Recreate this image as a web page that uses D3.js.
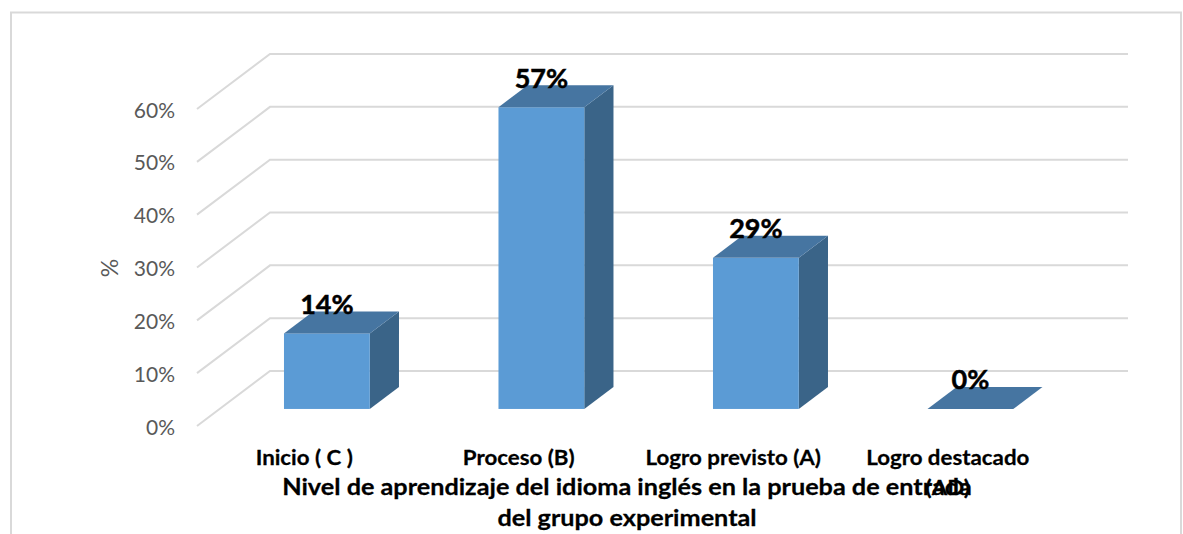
<!DOCTYPE html>
<html>
<head>
<meta charset="utf-8">
<script src="https://cdn.jsdelivr.net/npm/d3@7/dist/d3.min.js"></script>
<style>
html,body{margin:0;padding:0;background:#fff;overflow:hidden}
svg{display:block}
text{font-family:Lato,"Open Sans",sans-serif}
</style>
</head>
<body>
<svg id="chart" width="1183" height="534"></svg>
<script>
const categories = ["Inicio ( C )", "Proceso (B)", "Logro previsto (A)", "Logro destacado (AD)"];
const values = [0.143, 0.571, 0.286, 0];
const yTicks = [0, 0.1, 0.2, 0.3, 0.4, 0.5, 0.6];
const titleLines = ["Nivel de aprendizaje del idioma inglés en la prueba de entrada", "del grupo experimental"];
const yLabel = "%";

const svg = d3.select("#chart");
const grid = "#d9d9d9";

const y = d3.scaleLinear().domain([0, 0.6]).range([426, 109]);
const x = d3.scaleBand().domain(categories).range([197, 1055]).paddingInner(0.6).paddingOuter(0.3);
const floor = d3.scaleBand().domain(categories).range([197, 1055]);
// oblique projection of the chart depth
const depth = d3.scaleLinear().domain([0, 1]);
const dx = depth.copy().range([0, 73]);
const dy = depth.copy().range([0, -55]);
const barD0 = 0.31, barD1 = 0.71;
const line = d3.line();

svg.append("path")
  .attr("d", "M11 534V12.5H1181V534")
  .attr("fill", "none").attr("stroke", grid).attr("stroke-width", 2);

// walls
svg.append("g").selectAll("path").data(yTicks).join("path")
  .attr("fill", "none").attr("stroke", grid).attr("stroke-width", 2)
  .attr("d", t => line([[197, y(t)], [197 + dx(1), y(t) + dy(1)], [1055 + dx(1), y(t) + dy(1)]]));

// y axis
const axis = d3.axisLeft(y).tickValues(yTicks).tickFormat(d3.format(".0%")).tickSize(0).tickPadding(0);
const gAxis = svg.append("g").attr("transform", "translate(175,0)").call(axis);
gAxis.select(".domain").remove();
gAxis.selectAll("text")
  .attr("font-size", 21).attr("fill", "#595959").attr("dy", null)
  .attr("font-family", "Lato").attr("y", 8);

svg.append("text").attr("transform", "translate(118,268) rotate(-90)")
  .attr("text-anchor", "middle").attr("font-size", 23).attr("fill", "#595959").text(yLabel);

// bars
const bars = svg.append("g").selectAll("g").data(categories.map((c, i) => ({c, v: values[i]}))).join("g");
const frontX0 = d => floor(d.c) + (floor.bandwidth() - x.bandwidth()) / 2 + dx(barD0);
const frontX1 = d => frontX0(d) + x.bandwidth();
const base = y(0) + dy(barD0);
const top_ = d => y(d.v) + dy(barD0);
const bdx = dx(barD1 - barD0), bdy = dy(barD1 - barD0);

bars.append("path").attr("fill", "#3a6488")
  .attr("d", d => line([[frontX1(d), top_(d)], [frontX1(d) + bdx, top_(d) + bdy], [frontX1(d) + bdx, base + bdy], [frontX1(d), base]]) + "Z");
bars.append("rect").attr("fill", "#5b9bd5")
  .attr("x", frontX0).attr("y", top_).attr("width", x.bandwidth()).attr("height", d => base - top_(d));
bars.append("path").attr("fill", "#4675a1")
  .attr("d", d => line([[frontX0(d), top_(d)], [frontX0(d) + bdx, top_(d) + bdy], [frontX1(d) + bdx, top_(d) + bdy], [frontX1(d), top_(d)]]) + "Z");
bars.append("text")
  .attr("x", d => (frontX0(d) + frontX1(d)) / 2).attr("y", d => top_(d) - 19.5)
  .attr("text-anchor", "middle").attr("font-size", 27).attr("font-weight", 700).attr("fill", "#000")
  .attr("stroke", "#000").attr("stroke-width", 0.5)
  .text(d => d3.format(".0%")(d.v));

// category labels
const catStretch = 1.115, titleStretch = 1.147;
const catText = svg.append("g").selectAll("text").data(categories).join("text")
  .attr("text-anchor", "middle").attr("font-size", 20).attr("font-weight", 700).attr("fill", "#000")
  .attr("stroke", "#000").attr("stroke-width", 0.25)
  .attr("transform", c => `translate(${floor(c) + floor.bandwidth() / 2},465) scale(${catStretch},1)`);
catText.each(function (c) {
  const parts = c.length > 18 ? [c.slice(0, c.lastIndexOf(" ")), c.slice(c.lastIndexOf(" ") + 1)] : [c];
  d3.select(this).selectAll("tspan").data(parts).join("tspan")
    .attr("x", 0).attr("dy", (p, i) => i ? 30 : 0).text(p => p);
});

// axis title
svg.append("g").selectAll("text").data(titleLines).join("text")
  .attr("transform", (d, i) => `translate(627,${495 + i * 31}) scale(${titleStretch},1)`)
  .attr("text-anchor", "middle").attr("font-size", 22).attr("font-weight", 700).attr("fill", "#000")
  .attr("stroke", "#000").attr("stroke-width", 0.25)
  .text(d => d);
</script>
</body>
</html>
